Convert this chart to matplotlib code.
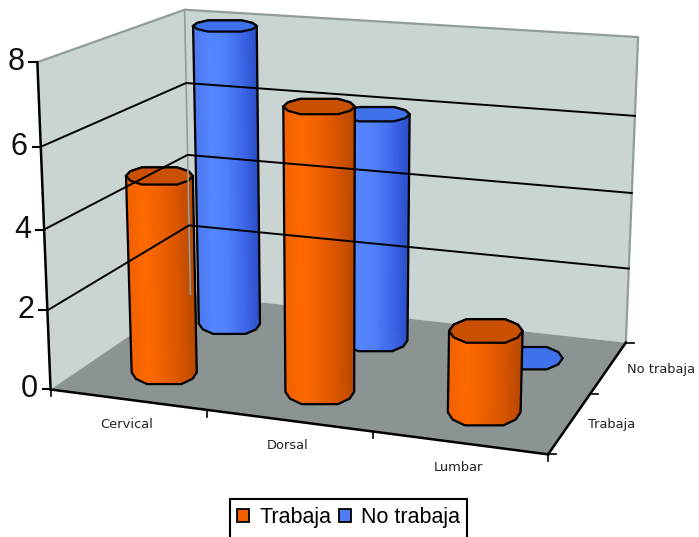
"""Cylinder chart of pain location by work status, 3D look in a flat axes
"""

# imports
import numpy as np
import matplotlib
matplotlib.use("Agg")
import matplotlib.pyplot as plt
from matplotlib.collections import PolyCollection
from matplotlib.colors import LinearSegmentedColormap
from matplotlib.patches import Patch, Polygon, Rectangle

# data
categories = ["Cervical", "Dorsal", "Lumbar"]
series_names = ["Trabaja", "No trabaja"]
trabaja = [5, 7, 2]
no_trabaja = [8, 6, 0]
z_ticks = [0, 2, 4, 6, 8]

# model setup: box corners (category, series, value) and where they land on screen
box_3d = [(0, 0, 0), (3, 0, 0), (0, 2, 0), (3, 2, 0), (0, 0, 8), (0, 2, 8), (3, 2, 8)]
box_px = [(51, 390), (548, 454), (190, 294), (626, 343), (37, 62), (185, 10), (638, 37)]
rad_x, rad_d = 0.215, 0.21

# cross section of a cylinder, chamfered outline with a long flat front and back
sec_x = np.array([1, .87, .53, -.53, -.87, -1, -.87, -.53, .53, .87, 1])
sec_y = np.array([0, .55, 1, 1, .55, 0, -.55, -1, -1, -.55, 0])

# colours
wall_col = "#c9d4d3"
floor_col = "#8b9493"
edge_col = "#919c9c"
orange = "#f06000"
blue = "#4f7bf5"
orange_map = LinearSegmentedColormap.from_list("o", ["#f06000", "#ff6a00", "#ef6000", "#d85500", "#b84800"])
blue_map = LinearSegmentedColormap.from_list("b", ["#4a78f0", "#5585ff", "#4f7ffa", "#3f68ea", "#2a4fc8"])
orange_top = "#c95000"
blue_top = "#3f72ea"


def fit_camera(pts, px):
    """least squares 3x4 projection matrix
    """
    rows, rhs = [], []
    for (x, y, z), (u, v) in zip(pts, px):
        rows.append([x, y, z, 1, 0, 0, 0, 0, -u*x, -u*y, -u*z])
        rows.append([0, 0, 0, 0, x, y, z, 1, -v*x, -v*y, -v*z])
        rhs += [u, v]
    sol = np.linalg.lstsq(np.array(rows, float), np.array(rhs, float), rcond=None)[0]
    return np.append(sol, 1).reshape(3, 4)


cam = fit_camera(box_3d, box_px)


def proj(x, y, z):
    """3d chart coordinates to screen pixels
    """
    x, y, z = np.broadcast_arrays(x, y, z)
    p = cam @ np.vstack([x.ravel(), y.ravel(), z.ravel(), np.ones(x.size)])
    return np.column_stack([p[0]/p[2], p[1]/p[2]])


def hull(pts):
    """convex hull, monotone chain
    """
    pts = sorted(map(tuple, pts))
    def half(seq):
        out = []
        for p in seq:
            while len(out) > 1 and ((out[-1][0]-out[-2][0])*(p[1]-out[-2][1])
                                    - (out[-1][1]-out[-2][1])*(p[0]-out[-2][0])) <= 0:
                out.pop()
            out.append(p)
        return out[:-1]
    return half(pts) + half(pts[::-1])


def section(cx, cy, z):
    """outline of the cylinder at height z, kept level on screen
    """
    c = proj(cx, cy, z)[0]
    dx = (proj(cx + 0.01, cy, z)[0] - c)/0.01
    dd = (proj(cx, cy + 0.01, z)[0] - c)/0.01
    half_w = dx[0]*rad_x
    half_h = np.hypot(dx[1]*rad_x, dd[1]*rad_d)
    return np.column_stack([c[0] + half_w*sec_x, c[1] + half_h*sec_y])


def cylinder(ax, cx, cy, h, cmap, top_col):
    """one cylinder, shaded across its width
    """
    top = section(cx, cy, h)
    if h > 0:
        # walk the outline in fine steps so the shading runs smoothly
        low = section(cx, cy, 0)
        frac = np.linspace(0, len(top) - 1, 400)
        idx = np.arange(len(top))
        up_f = np.column_stack([np.interp(frac, idx, top[:, 0]), np.interp(frac, idx, top[:, 1])])
        low_f = np.column_stack([np.interp(frac, idx, low[:, 0]), np.interp(frac, idx, low[:, 1])])
        left, right = low[:, 0].min(), low[:, 0].max()
        quads, shades = [], []
        for i in range(len(frac) - 1):
            quads.append([up_f[i], up_f[i+1], low_f[i+1], low_f[i]])
            shades.append((low_f[i, 0] - left)/(right - left))
        colors = cmap(np.array(shades))
        ax.add_collection(PolyCollection(quads, facecolors=colors, edgecolors=colors, linewidths=0.6))
        ax.add_patch(Polygon(hull(np.vstack([top, low])), fill=False, edgecolor="k", lw=1.6))
    ax.add_patch(Polygon(top, facecolor=top_col, edgecolor="k", lw=1.6))


# setup figure:
fig = plt.figure(figsize=(6.99, 5.37), dpi=100)
ax = fig.add_axes([0, 0, 1, 1])
ax.set_xlim(0, 699)
ax.set_ylim(537, 0)
ax.axis("off")
plt.rcParams["font.family"] = ["Liberation Sans"]

# walls and floor
ax.add_patch(Polygon(proj([0, 0, 0, 0], [0, 2, 2, 0], [0, 0, 8, 8]), facecolor=wall_col, edgecolor="none"))
ax.add_patch(Polygon(proj([0, 3, 3, 0], [2, 2, 2, 2], [0, 0, 8, 8]), facecolor=wall_col, edgecolor="none"))
ax.add_patch(Polygon(proj([0, 3, 3, 0], [0, 0, 2, 2], [0, 0, 0, 0]), facecolor=floor_col, edgecolor="none"))

# wall outline
edge = proj([0, 0, 3, 3], [0, 2, 2, 2], [8, 8, 8, 0])
ax.plot(edge[:, 0], edge[:, 1], color=edge_col, lw=1.6)
edge = proj([0, 0], [2, 2], [8, 0])
ax.plot(edge[:, 0], edge[:, 1], color=edge_col, lw=1.2)

# gridlines along both walls
for z in z_ticks[1:-1]:
    line = proj([0, 0, 3], [0, 2, 2], [z, z, z])
    ax.plot(line[:, 0], line[:, 1], color="k", lw=1.4)

# axis lines and ticks
for xs, ys, zs in [([0, 0], [0, 0], [0, 8]), ([0, 3], [0, 0], [0, 0]), ([3, 3], [0, 2], [0, 0])]:
    line = proj(xs, ys, zs)
    ax.plot(line[:, 0], line[:, 1], color="k", lw=1.8)
for z in z_ticks:
    u, v = proj(0, 0, z)[0]
    ax.plot([u - 8, u], [v, v], color="k", lw=1.5)
    ax.text(u - 13, v, str(z), ha="right", va="center", fontsize=22, color="#111111")
for x in range(4):
    u, v = proj(x, 0, 0)[0]
    ax.plot([u, u], [v, v + 7], color="k", lw=1.2)
for d in range(3):
    u, v = proj(3, d, 0)[0]
    ax.plot([u, u + 8], [v, v], color="k", lw=1.2)

# category and series labels
for i, name in enumerate(categories):
    u, v = proj(i + 0.5, 0, 0)[0]
    ax.text(u - 1, v + 25, name, ha="center", va="center", fontsize=9.4, color="#222222",
            family="DejaVu Sans")
for i, name in enumerate(series_names):
    u, v = proj(3, i + 0.5, 0)[0]
    ax.text(u + 18, v + 2, name, ha="left", va="center", fontsize=9.4, color="#222222",
            family="DejaVu Sans")

# back row first, the front row sits over it
for i, val in enumerate(no_trabaja):
    cylinder(ax, i + 0.5, 1.5, val, blue_map, blue_top)
for i, val in enumerate(trabaja):
    cylinder(ax, i + 0.5, 0.5, val, orange_map, orange_top)

# legend, its frame runs off the bottom of the figure
ax.add_patch(Rectangle((230, 499), 237, 48, facecolor="white", edgecolor="k", lw=1.5))
handles = [Patch(facecolor=orange, edgecolor="k", lw=1.3), Patch(facecolor=blue, edgecolor="k", lw=1.3)]
leg = ax.legend(handles, series_names, ncol=2, loc="upper left", bbox_to_anchor=(237, 507),
                bbox_transform=ax.transData, fontsize=15.5, frameon=False,
                borderpad=0, borderaxespad=0, handlelength=0.56, handleheight=0.56,
                handletextpad=0.47, columnspacing=0.37, labelspacing=0)

fig.savefig("out.png", dpi=100)
